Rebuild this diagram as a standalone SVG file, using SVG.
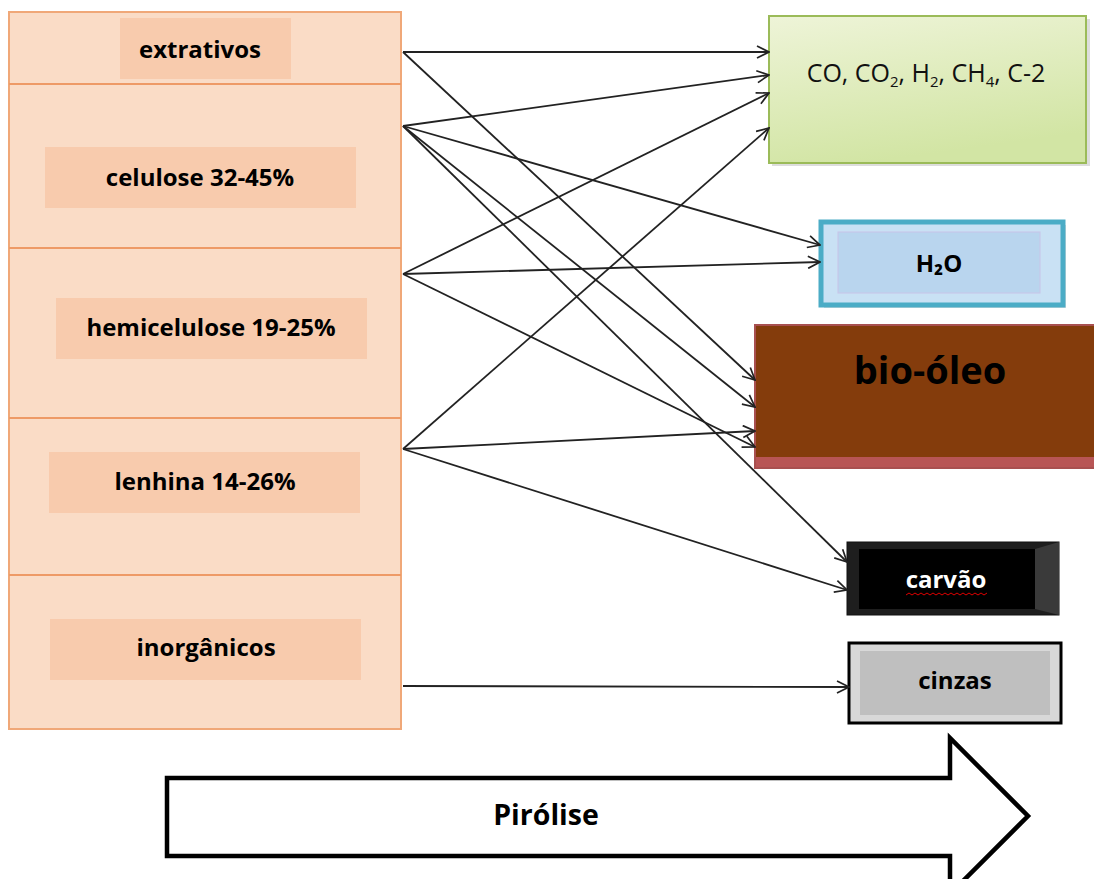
<svg xmlns="http://www.w3.org/2000/svg" width="1094" height="879" viewBox="0 0 1094 879">
<style>
.lbl{fill:#F8CBAD}
.t{font-family:"Open Sans","Liberation Sans",sans-serif;font-weight:bold;font-size:24px;fill:#000;text-anchor:middle}
.div{stroke:#EE9A66;stroke-width:2}
.c{stroke:#222;stroke-width:1.8;fill:none;marker-end:url(#ah)}
</style>
<defs>
<marker id="ah" viewBox="0 0 14 14" refX="13" refY="7" markerWidth="14" markerHeight="14" markerUnits="userSpaceOnUse" orient="auto">
<path d="M1,1 L13,7 L1,13" fill="none" stroke="#222" stroke-width="1.7"/>
</marker>
<linearGradient id="gg" x1="0" y1="0" x2="0.3" y2="1">
<stop offset="0" stop-color="#EEF4D8"/>
<stop offset="1" stop-color="#D2E5A4"/>
</linearGradient>
</defs>
<rect width="1094" height="879" fill="#fff"/>
<g id="biomassa">
<rect x="9" y="12" width="392" height="717" fill="#FADCC6" stroke="#F0A878" stroke-width="2"/>
<line class="div" x1="9" y1="84" x2="401" y2="84"/>
<line class="div" x1="9" y1="248" x2="401" y2="248"/>
<line class="div" x1="9" y1="418" x2="401" y2="418"/>
<line class="div" x1="9" y1="575" x2="401" y2="575"/>
</g>
<g id="extrativos"><rect class="lbl" x="120" y="18" width="171" height="61"/><text class="t" x="200" y="58">extrativos</text></g>
<g id="celulose"><rect class="lbl" x="45" y="147" width="311" height="61"/><text class="t" x="200" y="186">celulose 32-45%</text></g>
<g id="hemicelulose"><rect class="lbl" x="56" y="298" width="311" height="61"/><text class="t" x="211" y="336">hemicelulose 19-25%</text></g>
<g id="lenhina"><rect class="lbl" x="49" y="452" width="311" height="61"/><text class="t" x="205" y="490">lenhina 14-26%</text></g>
<g id="inorganicos"><rect class="lbl" x="50" y="619" width="311" height="61"/><text class="t" x="206" y="656">inorgânicos</text></g>
<g id="gases">
<rect x="772" y="19" width="318" height="147" fill="#bbb" opacity="0.5"/>
<rect x="769" y="16" width="317" height="147" fill="url(#gg)" stroke="#9BBB59" stroke-width="2"/>
<text x="926" y="82" font-family="Open Sans,Liberation Sans,sans-serif" font-size="25" fill="#111" text-anchor="middle">CO, CO<tspan font-size="15" dy="5">2</tspan><tspan dy="-5">, H</tspan><tspan font-size="15" dy="5">2</tspan><tspan dy="-5">, CH</tspan><tspan font-size="15" dy="5">4</tspan><tspan dy="-5">, C-2</tspan></text>
</g>
<g id="agua">
<rect x="824" y="225" width="242" height="83" fill="#bbb" opacity="0.5"/>
<rect x="821" y="222" width="242" height="83" fill="#C9E1F4" stroke="#4BACC6" stroke-width="5"/>
<rect x="838" y="232" width="202" height="61" fill="#B9D5EE" stroke="#C8C4E8" stroke-width="1"/>
<text class="t" x="939" y="272">H₂O</text>
</g>
<g id="bio-oleo">
<rect x="755" y="325" width="345" height="143" fill="#843C0C" stroke="#A85050" stroke-width="2"/>
<rect x="756" y="457" width="344" height="10" fill="#B85555"/>
<text x="930" y="384" font-family="Open Sans,Liberation Sans,sans-serif" font-weight="bold" font-size="38" fill="#000" text-anchor="middle">bio-óleo</text>
</g>
<g id="carvao">
<rect x="847" y="542" width="212" height="73" fill="#1e1e1e" stroke="#111" stroke-width="1"/>
<polygon points="1035,549 1059,542 1059,615 1035,609" fill="#3a3a3a"/>
<rect x="859" y="549" width="176" height="60" fill="#000"/>
<text class="t" x="946" y="588" style="fill:#fff">carvão</text>
<path d="M906,595 l3,-2 l3,2 l3,-2 l3,2 l3,-2 l3,2 l3,-2 l3,2 l3,-2 l3,2 l3,-2 l3,2 l3,-2 l3,2 l3,-2 l3,2 l3,-2 l3,2 l3,-2 l3,2 l3,-2 l3,2 l3,-2 l3,2 l3,-2 l3,2 l3,-2" fill="none" stroke="#E00000" stroke-width="1"/>
</g>
<g id="cinzas">
<rect x="849" y="643" width="212" height="80" fill="#D8D8D8" stroke="#000" stroke-width="3"/>
<rect x="860" y="651" width="190" height="64" fill="#BFBFBF"/>
<text class="t" x="955" y="689">cinzas</text>
</g>
<g id="connectors">
<line class="c" x1="403" y1="52" x2="769" y2="52"/>
<line class="c" x1="403" y1="52" x2="755" y2="380"/>
<line class="c" x1="403" y1="126" x2="769" y2="75"/>
<line class="c" x1="403" y1="126" x2="820" y2="245"/>
<line class="c" x1="403" y1="126" x2="755" y2="407"/>
<line class="c" x1="403" y1="126" x2="847" y2="562"/>
<line class="c" x1="403" y1="274" x2="769" y2="93"/>
<line class="c" x1="403" y1="274" x2="820" y2="262"/>
<line class="c" x1="403" y1="274" x2="755" y2="447"/>
<line class="c" x1="403" y1="449" x2="769" y2="128"/>
<line class="c" x1="403" y1="449" x2="755" y2="431"/>
<line class="c" x1="403" y1="449" x2="847" y2="590"/>
<line class="c" x1="403" y1="686" x2="849" y2="687"/>
</g>
<g id="pirolise">
<polygon points="167,778 950,778 950,738 1028,816 950,894 950,856 167,856" fill="#fff" stroke="#000" stroke-width="4.5" stroke-linejoin="miter"/>
<text x="546" y="825" font-family="Open Sans,Liberation Sans,sans-serif" font-weight="bold" font-size="28.5" fill="#000" text-anchor="middle">Pirólise</text>
</g>
</svg>
